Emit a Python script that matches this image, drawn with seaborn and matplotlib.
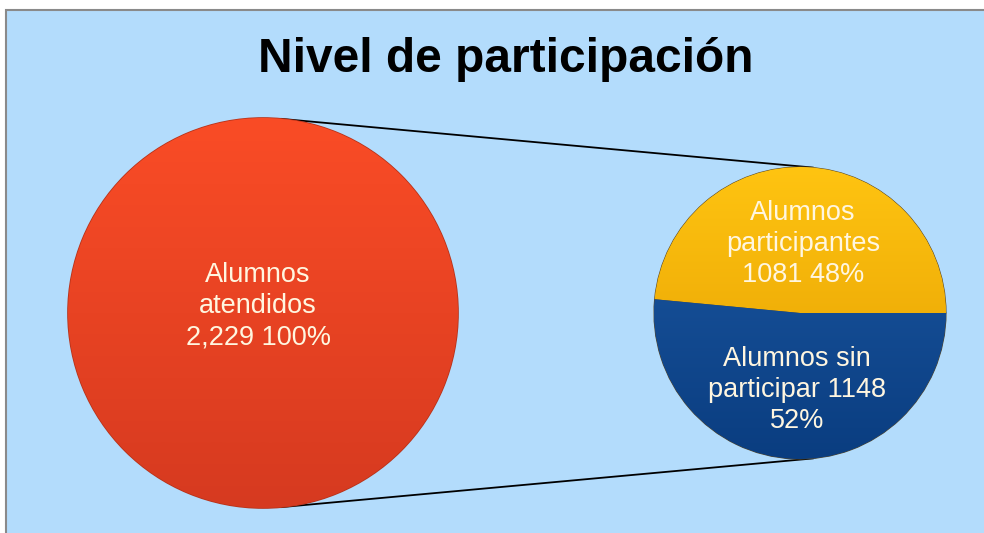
import matplotlib
matplotlib.use("Agg")
import matplotlib.pyplot as plt
import matplotlib.colors as mcolors
from matplotlib.patches import Rectangle
import numpy as np
import seaborn as sns

# data
total_label = ["Alumnos\natendidos\n2,229 100%"]
total_value = [2229]
parts = ["Alumnos participantes", "Alumnos sin participar"]
part_values = [1081, 1148]
part_labels = ["Alumnos\nparticipantes\n1081 48%", "Alumnos sin\nparticipar 1148\n52%"]

sns.set_theme(style="white")
plt.rcParams["font.family"] = ["Liberation Sans", "DejaVu Sans"]

W, H = 984, 533
BG = "#B3DCFC"
TXT = "#FFF6E0"

fig = plt.figure(figsize=(W / 100, H / 100), dpi=100)
fig.patch.set_facecolor("white")
ax = fig.add_axes([0, 0, 1, 1])

# pixel-like coordinates with y going up
def py(y):
    return H - y

big_c, big_r = (263, py(313)), 195
small_c, small_r = (800, py(313)), 146


def shade(wedges, tops, bottoms, cy, r):
    """overlay a vertical gradient clipped to each wedge"""
    for w, top, bot in zip(wedges, tops, bottoms):
        cmap = mcolors.LinearSegmentedColormap.from_list("g", [bot, top])
        grad = np.linspace(0, 1, 256).reshape(-1, 1)
        im = ax.imshow(grad, cmap=cmap, origin="lower", aspect="auto",
                       extent=[0, W, cy - r, cy + r], zorder=w.get_zorder() + 0.1)
        im.set_clip_path(w)


big_w, _ = ax.pie(total_value, center=big_c, radius=big_r, colors=["#F04A27"],
                  wedgeprops=dict(edgecolor="#B8331A", linewidth=1.2), frame=True)
small_w, _ = ax.pie(part_values, center=small_c, radius=small_r, startangle=0,
                    counterclock=True, colors=["#F5B400", "#0F4C93"],
                    wedgeprops=dict(edgecolor="#5A4A2A", linewidth=0.8), frame=True)
shade(big_w, ["#FA4C26"], ["#D63A20"], big_c[1], big_r)
shade(small_w, ["#FFC411", "#1D5AA5"], ["#E39C00", "#0A3D80"], small_c[1], small_r)

# connector lines along the outer tangents of the two circles
d = small_c[0] - big_c[0]
nx = (big_r - small_r) / d
ny = np.sqrt(1 - nx ** 2)
for s in (1, -1):
    x0, y0 = big_c[0] + big_r * nx, big_c[1] + s * big_r * ny
    x1, y1 = small_c[0] + small_r * nx, small_c[1] + s * small_r * ny
    ax.plot([x0, x1], [y0, y1], color="black", lw=1.3, zorder=0.5)

lbl = dict(ha="center", va="center", color=TXT, fontsize=19.5, linespacing=1.27, zorder=5)
ax.text(258, py(306), total_label[0], **lbl)
ax.text(803, py(244), part_labels[0], **lbl)
ax.text(797, py(390), part_labels[1], **lbl)

ax.text(506, py(60), "Nivel de participación", ha="center", va="center",
        fontsize=34.5, fontweight="bold", color="black", zorder=5)

ax.add_patch(Rectangle((6, -20), W + 40, py(10) + 20, facecolor=BG,
                       edgecolor="#8A8A8A", linewidth=1.5, zorder=0))

ax.set_xlim(0, W)
ax.set_ylim(0, H)
ax.set_aspect("auto")
ax.axis("off")

fig.savefig("out.png", dpi=100, facecolor="white")
